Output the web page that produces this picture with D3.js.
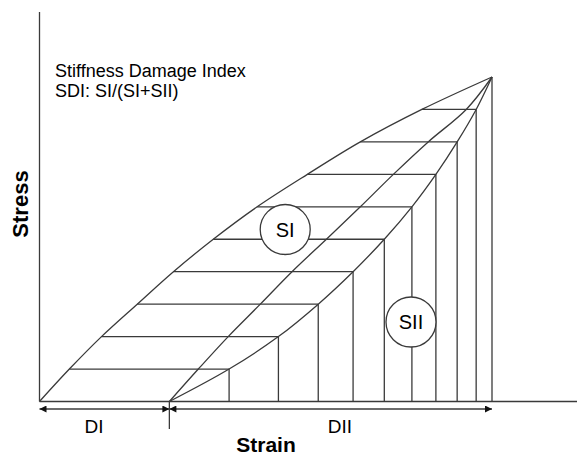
<!DOCTYPE html>
<html><head><meta charset="utf-8">
<script src="https://cdn.jsdelivr.net/npm/d3@7"></script>
<style>html,body{margin:0;padding:0;background:#fff;}svg{display:block;}</style>
</head><body>
<script>
// Stress levels (0..10) and strain values (0..100 where 100 = peak strain)
const stressLevels = [0,1,2,3,4,5,6,7,8,9,10];
const loadingStrain = [0,6.6,13.7,21.6,29.6,38.4,48.1,59.2,70.9,84.5,100];
const unloadStrain  = [28.7,35.1,41.7,48.8,55.8,63.4,70.9,78.2,85.9,94.3,100];
const reloadStrain  = [28.7,41.9,52.8,61.6,69.3,76.2,82.3,87.6,92.3,96.5,100];
const residualStrain = 28.7;
const peakStrain = 100;
const labels = {x:"Strain", y:"Stress", di:"DI", dii:"DII", si:"SI", sii:"SII",
  note1:"Stiffness Damage Index", note2:"SDI: SI/(SI+SII)"};
const circleSI = {strain:54.3, stress:5.3};
const circleSII = {strain:82.1, stress:2.45};

const W=577,H=457;
const x = d3.scaleLinear().domain([0,100]).range([39.5,492]);
const y = d3.scaleLinear().domain([0,10]).range([401.5,77]);
const stroke="#3a3a3a", sw=1.3;

const svg=d3.select("body").append("svg").attr("width",W).attr("height",H);
const defs=svg.append("defs");
defs.append("marker").attr("id","ah").attr("viewBox","0 0 10 10").attr("refX",10).attr("refY",5)
  .attr("markerWidth",8).attr("markerHeight",7).attr("markerUnits","userSpaceOnUse").attr("orient","auto-start-reverse")
  .append("path").attr("d","M0,0L10,5L0,10Z").attr("fill","#111");

// axes
svg.append("line").attr("x1",x(0)).attr("x2",x(0)).attr("y1",12).attr("y2",y(0)).attr("stroke",stroke).attr("stroke-width",sw);
svg.append("line").attr("x1",x(0)).attr("x2",W).attr("y1",y(0)).attr("y2",y(0)).attr("stroke",stroke).attr("stroke-width",sw);

const g=svg.append("g").attr("fill","none").attr("stroke",stroke).attr("stroke-width",sw);
// horizontal lines
stressLevels.slice(1,10).forEach((s,i)=>{
  const k=i+1;
  g.append("line").attr("x1",x(loadingStrain[k])).attr("x2",x(reloadStrain[k])).attr("y1",y(s)).attr("y2",y(s));
});
// vertical lines
stressLevels.slice(1).forEach((s,i)=>{
  const k=i+1;
  g.append("line").attr("x1",x(reloadStrain[k])).attr("x2",x(reloadStrain[k])).attr("y1",y(s)).attr("y2",y(0));
});
const line=d3.line().curve(d3.curveCatmullRom.alpha(0.5));
[loadingStrain,unloadStrain,reloadStrain].forEach(arr=>{
  g.append("path").attr("d",line(arr.map((v,i)=>[x(v),y(stressLevels[i])])));
});

// dimension arrows
const ay=409;
svg.append("line").attr("x1",x(0)).attr("x2",x(residualStrain)).attr("y1",ay).attr("y2",ay)
  .attr("stroke",stroke).attr("stroke-width",sw).attr("marker-start","url(#ah)").attr("marker-end","url(#ah)");
svg.append("line").attr("x1",x(residualStrain)).attr("x2",x(peakStrain)).attr("y1",ay).attr("y2",ay)
  .attr("stroke",stroke).attr("stroke-width",sw).attr("marker-start","url(#ah)").attr("marker-end","url(#ah)");
svg.append("line").attr("x1",x(residualStrain)).attr("x2",x(residualStrain)).attr("y1",y(0)).attr("y2",429)
  .attr("stroke",stroke).attr("stroke-width",sw);

const font="Liberation Sans, Arial, sans-serif";
svg.append("text").attr("x",94).attr("y",433).attr("text-anchor","middle").attr("font-family",font).attr("font-size",19).text(labels.di);
svg.append("text").attr("x",340).attr("y",433).attr("text-anchor","middle").attr("font-family",font).attr("font-size",19).text(labels.dii);
svg.append("text").attr("x",266).attr("y",452).attr("text-anchor","middle").attr("font-family",font).attr("font-size",21).attr("font-weight","bold").text(labels.x);
svg.append("text").attr("transform","translate(28,204) rotate(-90)").attr("text-anchor","middle").attr("font-family",font).attr("font-size",22).attr("font-weight","bold").text(labels.y);
svg.append("text").attr("x",55).attr("y",77).attr("font-family",font).attr("font-size",18).text(labels.note1);
svg.append("text").attr("x",55).attr("y",97).attr("font-family",font).attr("font-size",18).text(labels.note2);

[[circleSI,labels.si],[circleSII,labels.sii]].forEach(([c,t])=>{
  svg.append("circle").attr("cx",x(c.strain)).attr("cy",y(c.stress)).attr("r",25).attr("fill","#fff").attr("stroke",stroke).attr("stroke-width",sw);
  svg.append("text").attr("x",x(c.strain)).attr("y",y(c.stress)+7).attr("text-anchor","middle").attr("font-family",font).attr("font-size",20).text(t);
});
</script>
</body></html>
